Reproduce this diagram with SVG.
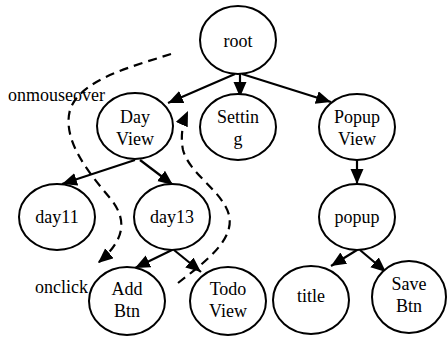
<svg xmlns="http://www.w3.org/2000/svg" width="447" height="339" viewBox="0 0 447 339">
<defs>
<marker id="ah" markerUnits="userSpaceOnUse" markerWidth="16" markerHeight="14" refX="15" refY="6.5" orient="auto">
<path d="M0,0 L15,6.5 L0,13 z" fill="#000"/>
</marker>
<style>
.n ellipse{fill:#fff;stroke:#000;stroke-width:2}
text{font-family:"Liberation Serif","Times New Roman",serif;font-size:18px;fill:#000}
.n text{text-anchor:middle}
.e line{stroke:#000;stroke-width:2.2;marker-end:url(#ah)}
.d path{fill:none;stroke:#000;stroke-width:2.2;stroke-dasharray:9,6;marker-end:url(#ah)}
</style>
</defs>
<rect width="447" height="339" fill="#fff"/>
<g id="connectors">
<g class="e">
<line x1="235" y1="74" x2="168" y2="103"/>
<line x1="240" y1="74" x2="240" y2="97"/>
<line x1="242" y1="74" x2="331" y2="102"/>
<line x1="135" y1="160" x2="62" y2="184"/>
<line x1="140" y1="160" x2="173" y2="185"/>
<line x1="357" y1="160" x2="357" y2="184"/>
<line x1="172" y1="250" x2="135" y2="268"/>
<line x1="174" y1="250" x2="201" y2="272"/>
<line x1="357" y1="250" x2="331" y2="266"/>
<line x1="360" y1="250" x2="386" y2="272"/>
</g>
<g class="d">
<path d="M171,54 C130,67 80,80 70,110 C62,140 88,172 110,198 C128,220 125,240 98,263"/>
<path d="M178,283 C205,262 235,240 229,215 C222,190 190,175 183,150 C180,135 183,122 188,111"/>
</g>
</g>
<g id="root" class="n"><ellipse cx="238" cy="40" rx="38" ry="34"/><text x="238" y="47">root</text></g>
<g id="dayview" class="n"><ellipse cx="135" cy="126" rx="38" ry="33"/><text x="135" y="123">Day</text><text x="135" y="145">View</text></g>
<g id="setting" class="n"><ellipse cx="238" cy="127" rx="38" ry="33"/><text x="238" y="123">Settin</text><text x="238" y="145">g</text></g>
<g id="popupview" class="n"><ellipse cx="357" cy="127" rx="38" ry="33"/><text x="357" y="123">Popup</text><text x="357" y="145">View</text></g>
<g id="day11" class="n"><ellipse cx="57" cy="217" rx="38" ry="33"/><text x="57" y="223">day11</text></g>
<g id="day13" class="n"><ellipse cx="172" cy="217" rx="38" ry="33"/><text x="172" y="223">day13</text></g>
<g id="popup" class="n"><ellipse cx="357" cy="217" rx="38" ry="33"/><text x="357" y="223">popup</text></g>
<g id="addbtn" class="n"><ellipse cx="127" cy="301" rx="38" ry="34"/><text x="127" y="295">Add</text><text x="127" y="317">Btn</text></g>
<g id="todoview" class="n"><ellipse cx="228" cy="301" rx="38" ry="34"/><text x="228" y="295">Todo</text><text x="228" y="317">View</text></g>
<g id="title" class="n"><ellipse cx="311" cy="300" rx="38" ry="34"/><text x="311" y="302">title</text></g>
<g id="savebtn" class="n"><ellipse cx="409" cy="297" rx="37" ry="36"/><text x="409" y="290">Save</text><text x="409" y="312">Btn</text></g>
<text x="8" y="101">onmouseover</text>
<text x="35" y="293">onclick</text>
</svg>
